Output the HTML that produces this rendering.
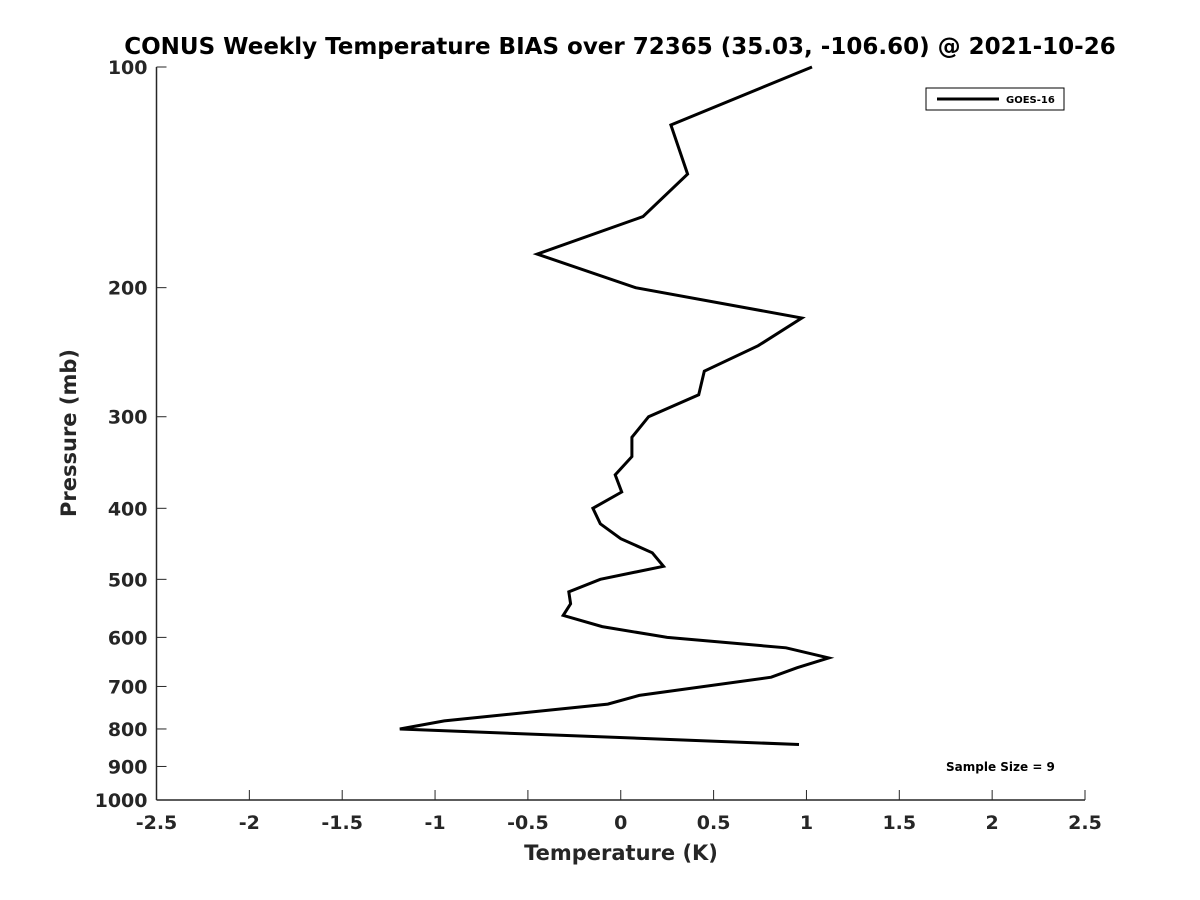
<!DOCTYPE html>
<html><head><meta charset="utf-8"><style>
html,body{margin:0;padding:0;background:#fff;}
svg{display:block;font-family:"DejaVu Sans","Liberation Sans",sans-serif;font-weight:bold;}
</style></head><body>
<svg id="chart" width="1200" height="900" xmlns="http://www.w3.org/2000/svg">
<rect width="1200" height="900" fill="#fff"/>
<text x="620" y="54" text-anchor="middle" font-size="23" fill="#000">CONUS Weekly Temperature BIAS over 72365 (35.03, -106.60) @ 2021-10-26</text>
<g id="axes"></g>
<g id="series"></g>
<g>
<rect x="926" y="88" width="138" height="22" fill="#fff" stroke="#000" stroke-width="1"/>
<line x1="937" y1="99" x2="999" y2="99" stroke="#000" stroke-width="3"/>
<text x="1006" y="103" font-size="10" fill="#000">GOES-16</text>
</g>
<text x="946" y="771" font-size="12" fill="#000">Sample Size = 9</text>
<text x="621" y="860" text-anchor="middle" font-size="21" fill="#262626">Temperature (K)</text>
<text transform="translate(76,433) rotate(-90)" text-anchor="middle" font-size="21" fill="#262626">Pressure (mb)</text>
</svg>
<script>
const pressures = [100,120,140,160,180,200,220,240,260,280,300,320,340,360,380,400,420,440,460,480,500,520,540,560,580,600,620,640,660,680,720,740,780,800,840];
const biasGoes16 = [1.03,0.27,0.36,0.12,-0.45,0.08,0.975,0.74,0.45,0.42,0.15,0.06,0.06,-0.03,0.005,-0.15,-0.11,0,0.17,0.23,-0.11,-0.28,-0.27,-0.31,-0.10,0.25,0.89,1.12,0.95,0.81,0.10,-0.07,-0.95,-1.19,0.96];
const xTicks = [-2.5,-2,-1.5,-1,-0.5,0,0.5,1,1.5,2,2.5];
const xTickLabels = ["-2.5","-2","-1.5","-1","-0.5","0","0.5","1","1.5","2","2.5"];
const yTicks = [100,200,300,400,500,600,700,800,900,1000];
const yTickLabels = ["100","200","300","400","500","600","700","800","900","1000"];

const L=156.5,R=1085,T=67,B=800;
const xs = v => L + (v - (-2.5)) / 5 * (R - L);
const ys = p => T + (Math.log10(p) - 2) * (B - T);
const NS="http://www.w3.org/2000/svg";
const axes=document.getElementById('axes');
function mk(tag,attrs,parent){const e=document.createElementNS(NS,tag);for(const k in attrs)e.setAttribute(k,attrs[k]);parent.appendChild(e);return e;}

const xl=mk('line',{x1:L,y1:B,x2:R,y2:B,stroke:'#262626','stroke-width':1.5},axes);


const yl=mk('line',{x1:L,y1:T,x2:L,y2:B,stroke:'#262626','stroke-width':1.5},axes);



xTicks.forEach((v,i)=>{
  const x=xs(v);
  const t=mk('line',{x1:x,y1:B,x2:x,y2:B-10,stroke:'#262626','stroke-width':1},axes);
  
  
  const tx=mk('text',{x:x,y:B+29,'text-anchor':'middle','font-size':19,fill:'#262626'},axes);
  tx.textContent=xTickLabels[i];
  
  
});
yTicks.forEach((p,i)=>{
  const y=ys(p);
  const t=mk('line',{x1:L,y1:y,x2:L+10,y2:y,stroke:'#262626','stroke-width':1},axes);
  
  
  const tx=mk('text',{x:L-9,y:y+7,'text-anchor':'end','font-size':19,fill:'#262626'},axes);
  tx.textContent=yTickLabels[i];
  
  
});

const pts=pressures.map((p,i)=>xs(biasGoes16[i]).toFixed(1)+','+ys(p).toFixed(1)).join(' ');
const line=mk('polyline',{points:pts,fill:'none',stroke:'#000','stroke-width':3,'stroke-linejoin':'miter'},document.getElementById('series'));


</script>
</body></html>
